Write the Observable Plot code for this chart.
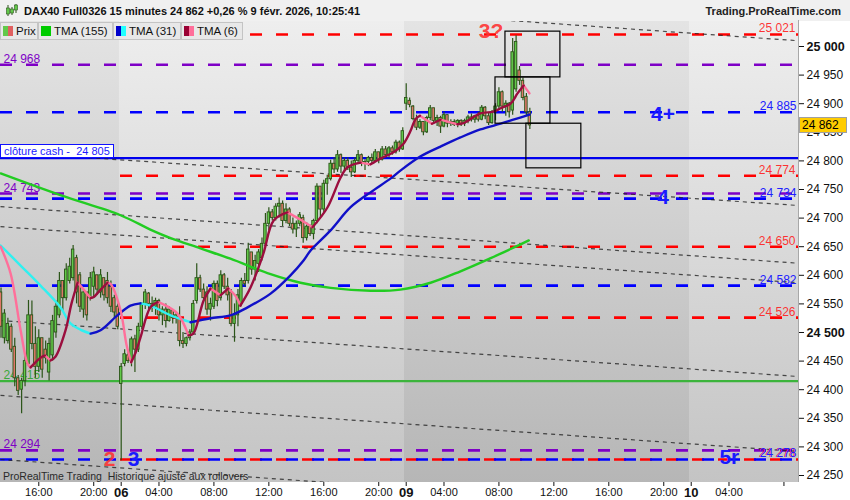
<!DOCTYPE html>
<html>
<head>
<meta charset="utf-8">
<script src="https://cdn.jsdelivr.net/npm/d3@7"></script>
<script src="https://cdn.jsdelivr.net/npm/@observablehq/plot@0.6"></script>
<style>
  body { margin: 0; background: #fff; font-family: "Liberation Sans", Arial, sans-serif; }
  #wrap { position: relative; width: 850px; height: 500px; overflow: hidden; }
  #chart { position: absolute; left: 0; top: 0; }
  .ov { position: absolute; white-space: pre; }
  #header { left: 0; top: 0; width: 850px; height: 21px; background: #f0f0f0; }
  #title { left: 24px; top: 5px; font-size: 11px; font-weight: bold; color: #111; }
  #site { right: 9px; top: 5px; font-size: 11px; font-weight: bold; color: #222; }
  .leg { position: absolute; top: 22px; height: 18px; background: #e8e8e8; border: 1px solid #c4c4c4;
         box-sizing: border-box; font-size: 11.5px; line-height: 16px; color: #111; padding-left: 15px; }
  .sw { position: absolute; left: 2px; top: 3px; width: 10px; height: 10px; }
  .sw span { display: inline-block; width: 5px; height: 10px; vertical-align: top; }
  #cash { left: 0; height: 14px; box-sizing: border-box; background: #fff; border: 1px solid #1010ff;
          color: #1a1aff; font-size: 11px; line-height: 12px; padding: 0 3px; }
  #tag { left: 799px; width: 48px; height: 16px; box-sizing: border-box; background: #ffcc00;
         border: 1px solid #a0a0a0; font-size: 12px; line-height: 14px; color: #000; padding-left: 2px; }
  #foot { left: 3px; top: 470px; font-size: 10.5px; color: #2a2a2a; }
  #rborder { left: 798px; top: 20px; width: 1px; height: 462px; background: #a8a8a8; }
</style>
</head>
<body>
<div id="wrap">
  <div id="chart"></div>
  <div id="header" class="ov"></div>
  <div id="title" class="ov"></div>
  <div id="site" class="ov"></div>
  <div id="legend"></div>
  <div id="cash" class="ov"></div>
  <div id="tag" class="ov"></div>
  <div id="foot" class="ov"></div>
  <div id="rborder" class="ov"></div>
</div>
<script>
// ---------------- DATA ----------------
const titleText = "DAX40 Full0326 15 minutes 24 862 +0,26 % 9 févr. 2026, 10:25:41";
const siteText = "Trading.ProRealTime.com";
const footText = "ProRealTime Trading  Historique ajusté aux rollovers";
const lastPrice = 24862;
const cashClose = 24805;

// 15-minute bars, index 0 = 6 Feb 01:15 (bars -35..-1 = 5 Feb, 83.. = 9 Feb)
const firstBar = -35;
const open = [
24570,24490,24485,24510,24475,24420,24400,24415,24445,24530,24480,24440,24490,24470,24430,24460,24500,24530,24590,24560,
24590,24595,24630,24600,24540,24570,24560,24580,24600,24570,24595,24590,24580,24560,24545,
24410,24445,24460,24450,24488,24470,24510,24548,24568,24550,24545,24555,24530,24540,24520,24538,24525,24525,24485,24480,
24490,24500,24555,24595,24575,24570,24540,24545,24585,24560,24600,24580,24570,24515,24530,24550,24590,24590,24640,24610,
24620,24630,24655,24690,24710,24700,24720,24725,24695,24715,24690,24680,24690,24700,24665,24685,24672,24695,24755,24715,
24760,24768,24795,24785,24810,24790,24800,24788,24780,24800,24810,24795,24798,24805,24800,24815,24802,24820,24810,24822,
24815,24832,24820,
24900,24905,24895,24873,24858,24868,24850,24875,24892,24870,24875,24860,24880,24865,24868,24863,24870,24865,24870,24876,
24872,24878,24872,24893,24878,24866,24885,24895,24920,24895,24900,24888,24925,24958,24940,24912,24885];
const high = [
24578,24540,24525,24515,24490,24425,24420,24460,24556,24555,24510,24505,24490,24485,24490,24530,24555,24605,24590,24620,
24630,24652,24635,24605,24575,24570,24605,24614,24600,24610,24595,24605,24590,24565,24550,
24446,24470,24468,24492,24495,24516,24552,24575,24570,24562,24560,24558,24545,24550,24545,24540,24535,24545,24500,24492,
24505,24556,24620,24600,24585,24580,24560,24590,24590,24608,24603,24595,24575,24550,24575,24595,24603,24656,24640,24635,
24645,24665,24708,24718,24715,24725,24735,24730,24725,24718,24700,24695,24710,24705,24692,24688,24698,24760,24755,24766,
24775,24801,24805,24818,24812,24805,24805,24800,24805,24818,24812,24802,24808,24812,24820,24815,24825,24825,24825,24826,
24836,24835,24858,
24935,24910,24897,24880,24872,24868,24878,24897,24892,24880,24878,24885,24880,24872,24872,24872,24872,24873,24880,24882,
24880,24885,24897,24895,24883,24888,24900,24928,24922,24905,24902,25014,25019,24965,24945,24918,24892];
const low = [
24490,24480,24480,24465,24405,24390,24358,24405,24440,24470,24420,24430,24420,24445,24415,24450,24490,24525,24535,24555,
24585,24590,24550,24535,24525,24520,24555,24560,24565,24560,24555,24550,24535,24525,24505,
24276,24440,24446,24440,24430,24465,24505,24540,24540,24535,24530,24520,24512,24508,24518,24515,24515,24475,24472,24475,
24485,24495,24550,24570,24555,24530,24520,24540,24545,24555,24575,24555,24510,24483,24510,24545,24580,24585,24600,24590,
24605,24625,24650,24678,24695,24695,24700,24685,24690,24685,24672,24666,24685,24656,24660,24668,24662,24690,24700,24710,
24740,24765,24778,24780,24778,24783,24783,24771,24778,24795,24790,24783,24790,24795,24798,24795,24800,24805,24805,24810,
24812,24815,24818,
24888,24893,24870,24853,24855,24844,24848,24870,24865,24860,24848,24858,24858,24860,24860,24858,24860,24860,24865,24868,
24866,24868,24870,24872,24862,24864,24870,24888,24885,24878,24875,24880,24920,24932,24905,24878,24855];
const close = [
24510,24533,24515,24470,24420,24398,24415,24450,24530,24480,24440,24490,24435,24455,24480,24520,24545,24590,24560,24610,
24615,24645,24570,24545,24570,24530,24595,24605,24575,24600,24565,24560,24545,24535,24510,
24440,24462,24450,24488,24470,24510,24548,24570,24550,24545,24555,24530,24540,24520,24540,24525,24530,24485,24480,24490,
24500,24550,24595,24575,24560,24540,24550,24585,24555,24600,24580,24565,24515,24530,24565,24590,24585,24645,24610,24625,
24640,24655,24690,24710,24700,24720,24725,24695,24715,24690,24680,24690,24705,24665,24685,24672,24695,24755,24715,24760,
24768,24795,24785,24810,24790,24800,24788,24780,24800,24810,24795,24798,24805,24800,24815,24802,24820,24810,24822,24815,
24832,24820,24852,
24910,24898,24873,24858,24868,24850,24875,24892,24870,24875,24860,24880,24865,24868,24863,24870,24865,24870,24876,24872,
24878,24872,24893,24878,24866,24885,24895,24920,24895,24900,24885,24990,25008,24940,24910,24885,24862];

// Moving averages: [bar, value]
const tma155Bar = [-35.1,-17.7,-0.2,8.5,14.4,23.1,31.8,43.5,52.2,61,72.6,81.3,90.1,98.8,107.6,113.4,118.7];
const tma155Val = [24778,24740,24705,24680,24665,24647,24629,24602,24587,24578,24573,24575,24587,24607,24630,24646,24661];
const tma31Bar = [-35.1,-29.3,-23.5,-17.7,-14.8,-11.9,-8.9,-6,-1.1,2.7,5.6,8.5,14.4,20.2,26,31.8,36.8,43.5,49.3,53.1,55.1,60.9,66.8,72.6,78.4,81.3,87.2,93,98.8,104.6,110.5,114.2,118.9];
const tma31Val = [24652,24617,24582,24544,24516,24505,24498,24504,24530,24547,24551,24547,24530,24518,24525,24530,24544,24568,24600,24626,24643,24678,24719,24745,24769,24783,24808,24825,24841,24855,24865,24872,24881];
const tma6Bar = [-35.1,-32.2,-29.3,-27.3,-26.4,-23.5,-22.2,-20.6,-19.1,-16.2,-14.5,-12.7,-11.9,-8.9,-8,-6,-4,-3.1,-0.2,1.5,2.9,4.2,5.6,8.5,10.6,12,16.4,19.6,21,24,26,28.9,31.2,33.5,34.7,37.7,41.4,44.4,48.4,52,55.7,60.1,63.9,65.9,69.7,72.6,75.5,79.3,82.2,84.3,85.7,87,90.5,93,97.9,99.7,104.6,108.4,110.5,113.4,115.4,117.2,118.9];
const tma6Val = [24650,24603,24504,24446,24439,24456,24460,24451,24458,24504,24550,24587,24582,24560,24562,24575,24587,24585,24539,24480,24448,24465,24491,24544,24553,24550,24533,24495,24498,24556,24577,24565,24577,24562,24547,24579,24638,24696,24710,24698,24684,24719,24771,24789,24797,24794,24804,24815,24830,24853,24873,24879,24865,24872,24864,24866,24883,24886,24892,24900,24918,24932,24918];

// Horizontal levels
const levelPrice = [25021, 24968, 24885, 24805, 24774, 24743, 24734, 24650, 24582, 24526, 24415, 24294, 24278, 24278];
const levelKind  = ["red","purple","blue","blueSolid","red","purple","blue","red","blue","red","greenSolid","purple","blue","red"];
const levelLabel = ["right","left","right",null,"right","left","right","right","right","right","left","left","right","right"];

// Dashed channel lines: price at left edge, price at right edge
const trendLeft  = [25108, 24816, 24720, 24685, 24521, 24390, 24278];
const trendRight = [25010, 24722, 24621, 24587, 24423, 24292, 24180];

// Rectangles drawn on the chart
const boxBar1 = [111.9, 109, 118];
const boxBar2 = [127.9, 125, 134];
const boxTop  = [25026, 24946, 24865];
const boxBot  = [24946, 24865, 24787];

// Hand annotations
const annoText  = ["3?", "4+", "4", "2", "3", "5r"];
const annoBar   = [107.7, 157.8, 157.8, -3.4, 3.6, 177.1];
const annoPrice = [25026, 24882, 24736, 24279, 24279, 24282];
const annoKind  = ["red", "blue", "blue", "red", "blue", "blue"];

// Axis ticks
const xTickBar   = [-24, -8, 11, 27, 43, 59, 75, 94, 110, 126, 142, 158, 177, 193];
const xTickLabel = ["16:00","20:00","04:00","08:00","12:00","16:00","20:00","04:00","08:00","12:00","16:00","20:00","04:00",""];
const dayTickBar   = [0, 83, 166];
const dayTickLabel = ["06", "09", "10"];
const yTicks     = [24250, 24300, 24350, 24400, 24450, 24550, 24600, 24650, 24700, 24750, 24800, 24850, 24900, 24950];
const yTicksBold = [24500, 25000];

// Day shading (bar boundaries)
const dayStart = [-36, -0.5, 82.5, 165.5];
const dayEnd   = [-0.5, 82.5, 165.5, 198];
const dayShade = ["dark", "light", "dark", "light"];

// ---------------- BUILD ----------------
const fmt = d => d3.format(",")(d).replace(/,/g, " ");
const xMin = -35.15, xMax = 197.24;
const redStart = -0.2;

const candles = open.map((o, i) => ({b: firstBar + i, o, h: high[i], l: low[i], c: close[i]}));
const levels = levelPrice.map((p, i) => ({p, kind: levelKind[i], side: levelLabel[i]}));
const trends = trendLeft.map((a, i) => ({a, z: trendRight[i]}));
const boxes = boxBar1.map((b, i) => ({b1: b, b2: boxBar2[i], t: boxTop[i], u: boxBot[i]}));
const annos = annoText.map((t, i) => ({t, b: annoBar[i], p: annoPrice[i], kind: annoKind[i]}));
const days = dayStart.map((s, i) => ({s, e: dayEnd[i], shade: dayShade[i]}));

const levelStyle = {
  red:        {stroke: "#ff0000", dash: "12,14", w: 2.6},
  purple:     {stroke: "#7e00c6", dash: "12,14", w: 2.6},
  blue:       {stroke: "#0000ff", dash: "12,14", w: 2.6},
  blueSolid:  {stroke: "#0000ee", dash: null,    w: 2.2},
  greenSolid: {stroke: "#3cb43c", dash: null,    w: 2.2}
};
const labelColor = {red: "#ff1a1a", purple: "#7e00c6", blue: "#2020ff", greenSolid: "#3aa83a"};
const annoColor = {red: "#ff3030", blue: "#1a1aff"};

function splitRuns(bars, vals) {
  const out = [];
  let k = -1, prevUp = null;
  for (let i = 1; i < bars.length; i++) {
    const up = vals[i] > vals[i - 1];
    if (up !== prevUp) { k++; out.push({k, up, b: bars[i - 1], v: vals[i - 1]}); prevUp = up; }
    out.push({k, up, b: bars[i], v: vals[i]});
  }
  return out;
}
const tma155 = tma155Bar.map((b, i) => ({b, v: tma155Val[i]}));
const tma31 = splitRuns(tma31Bar, tma31Val);
const tma6 = splitRuns(tma6Bar, tma6Val);

const levelMarks = Object.keys(levelStyle).map(kind => {
  const st = levelStyle[kind];
  return Plot.ruleY(levels.filter(d => d.kind === kind), {
    y: "p",
    x1: kind === "red" ? () => redStart : () => xMin,
    x2: () => xMax,
    stroke: st.stroke, strokeWidth: st.w,
    strokeDasharray: st.dash || undefined,
    clip: true
  });
});

const labelMarks = [];
for (const kind of Object.keys(labelColor)) {
  const L = levels.filter(d => d.kind === kind && d.side === "left");
  const R = levels.filter(d => d.kind === kind && d.side === "right");
  labelMarks.push(Plot.text(L, {y: "p", text: d => fmt(d.p), frameAnchor: "left", textAnchor: "start",
    lineAnchor: "bottom", dx: 3, dy: -2, fill: labelColor[kind], fontSize: 12}));
  labelMarks.push(Plot.text(R, {y: "p", text: d => fmt(d.p), frameAnchor: "right", textAnchor: "end",
    lineAnchor: "bottom", dx: kind === "red" ? -3 : -2, dy: -2, fill: labelColor[kind], fontSize: 12,
    fillOpacity: kind === "red" ? 0.9 : 1}));
}

const xLab = new Map(xTickBar.map((b, i) => [b, xTickLabel[i]]));
const dLab = new Map(dayTickBar.map((b, i) => [b, dayTickLabel[i]]));

const plot = Plot.plot({
  width: 850, height: 500,
  marginLeft: 0, marginRight: 52, marginTop: 20, marginBottom: 18,
  x: {domain: [xMin, xMax]},
  y: {domain: [24250, 25000], range: [475, 46]},
  style: {fontFamily: "'Liberation Sans', Arial, sans-serif", background: "transparent", color: "#111", overflow: "visible"},
  marks: [
    Plot.rect(days.filter(d => d.shade === "light"), {x1: "s", x2: "e", y1: () => 24150, y2: () => 25150, fill: "url(#gLight)", clip: true}),
    Plot.rect(days.filter(d => d.shade === "dark"), {x1: "s", x2: "e", y1: () => 24150, y2: () => 25150, fill: "url(#gDark)", clip: true}),
    ...levelMarks,
    Plot.link(trends, {x1: () => xMin, x2: () => xMax, y1: "a", y2: "z", stroke: "#222", strokeOpacity: 0.8,
      strokeWidth: 1.2, strokeDasharray: "4,4", clip: true}),
    ...labelMarks,
    // candles
    Plot.ruleX(candles, {x: "b", y1: "l", y2: "h", stroke: "#2b5418", strokeWidth: 1.2, clip: true}),
    Plot.rect(candles.filter(d => d.c >= d.o), {x1: d => d.b - 0.36, x2: d => d.b + 0.36, y1: "o", y2: "c",
      fill: "#62c94a", stroke: "#2b5418", strokeWidth: 0.9, clip: true}),
    Plot.rect(candles.filter(d => d.c < d.o), {x1: d => d.b - 0.36, x2: d => d.b + 0.36, y1: "o", y2: "c",
      fill: "#e0786a", stroke: "#2b5418", strokeWidth: 0.9, clip: true}),
    // moving averages
    Plot.line(tma155, {x: "b", y: "v", stroke: "#22cc22", strokeWidth: 2.4, curve: "catmull-rom", clip: true}),
    Plot.line(tma31.filter(d => !d.up), {x: "b", y: "v", z: "k", stroke: "#30f0f0", strokeWidth: 2.4, curve: "catmull-rom", clip: true}),
    Plot.line(tma31.filter(d => d.up), {x: "b", y: "v", z: "k", stroke: "#1010c8", strokeWidth: 2.4, curve: "catmull-rom", clip: true}),
    Plot.line(tma6.filter(d => !d.up), {x: "b", y: "v", z: "k", stroke: "#ff6f9a", strokeWidth: 2.4, curve: "catmull-rom", clip: true}),
    Plot.line(tma6.filter(d => d.up), {x: "b", y: "v", z: "k", stroke: "#9b0e3e", strokeWidth: 2.4, curve: "catmull-rom", clip: true}),
    // boxes
    Plot.rect(boxes, {x1: "b1", x2: "b2", y1: "t", y2: "u", fill: "none", stroke: "#000", strokeWidth: 1.2, clip: true}),
    // annotations
    Plot.text(annos.filter(d => d.kind === "red"), {x: "b", y: "p", text: "t", fill: annoColor.red, fontSize: 21, fontWeight: "bold", fillOpacity: 0.9}),
    Plot.text(annos.filter(d => d.kind === "blue"), {x: "b", y: "p", text: "t", fill: annoColor.blue, fontSize: 21, fontWeight: "bold"}),
    // axes
    Plot.axisY(yTicks, {anchor: "right", tickSize: 5, tickPadding: 3, tickFormat: fmt, fontSize: 12, color: "#111", label: null}),
    Plot.axisY(yTicksBold, {anchor: "right", tickSize: 5, tickPadding: 3, tickFormat: fmt, fontSize: 12.5, fontWeight: "bold", color: "#111", label: null}),
    Plot.axisX(xTickBar, {anchor: "bottom", tickSize: 4, tickPadding: 2, tickFormat: d => xLab.get(d), fontSize: 11, color: "#111", label: null}),
    Plot.axisX(dayTickBar, {anchor: "bottom", tickSize: 4, tickPadding: 1, tickFormat: d => dLab.get(d), fontSize: 13, fontWeight: "bold", color: "#111", label: null})
  ]
});

// gradients for the background
const NS = "http://www.w3.org/2000/svg";
const defs = document.createElementNS(NS, "defs");
function grad(id, top, bottom) {
  const g = document.createElementNS(NS, "linearGradient");
  g.setAttribute("id", id);
  g.setAttribute("gradientUnits", "userSpaceOnUse");
  g.setAttribute("x1", 0); g.setAttribute("y1", 20); g.setAttribute("x2", 0); g.setAttribute("y2", 482);
  [[0, top], [1, bottom]].forEach(([o, c]) => {
    const s = document.createElementNS(NS, "stop");
    s.setAttribute("offset", o); s.setAttribute("stop-color", c);
    g.appendChild(s);
  });
  defs.appendChild(g);
}
grad("gLight", "#eeeeee", "#c4c4c4");
grad("gDark", "#e4e4e4", "#b6b6b6");
plot.insertBefore(defs, plot.firstChild);
document.getElementById("chart").appendChild(plot);

// overlays
const ys = plot.scale("y");
document.getElementById("title").innerHTML =
  '<svg width="14" height="13" style="position:absolute;left:-19px;top:-1px">' +
  '<line x1="3" y1="1" x2="3" y2="12" stroke="#2b5418"/><rect x="1.5" y="4" width="3" height="6" fill="#62c94a" stroke="#2b5418" stroke-width="0.6"/>' +
  '<line x1="7" y1="3" x2="7" y2="11" stroke="#2b5418"/><rect x="5.5" y="5" width="3" height="4" fill="#62c94a" stroke="#2b5418" stroke-width="0.6"/>' +
  '<line x1="11" y1="0" x2="11" y2="9" stroke="#2b5418"/><rect x="9.5" y="1" width="3" height="5" fill="#62c94a" stroke="#2b5418" stroke-width="0.6"/></svg>' +
  titleText;
document.getElementById("site").textContent = siteText;
document.getElementById("foot").textContent = footText;

const legendItems = [
  {label: "Prix", c: ["#62c94a", "#e06060"], left: 0, width: 38},
  {label: "TMA (155)", c: ["#00cc00", "#00cc00"], left: 38, width: 75},
  {label: "TMA (31)", c: ["#0000cc", "#20ffff"], left: 113, width: 68},
  {label: "TMA (6)", c: ["#990033", "#ff6f9a"], left: 181, width: 62}
];
const legend = document.getElementById("legend");
for (const it of legendItems) {
  const d = document.createElement("div");
  d.className = "leg";
  d.style.left = it.left + "px";
  d.style.width = it.width + "px";
  d.innerHTML = `<div class="sw"><span style="background:${it.c[0]}"></span><span style="background:${it.c[1]}"></span></div>${it.label}`;
  legend.appendChild(d);
}

const cash = document.getElementById("cash");
cash.textContent = "clôture cash -  " + fmt(cashClose);
cash.style.top = (ys.apply(cashClose) - 14) + "px";

const tag = document.getElementById("tag");
tag.textContent = fmt(lastPrice);
tag.style.top = (ys.apply(lastPrice) - 8) + "px";
</script>
</body>
</html>
